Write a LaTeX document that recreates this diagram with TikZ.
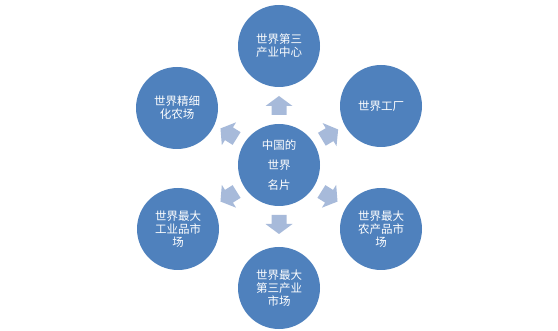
\documentclass[tikz,border=0pt]{standalone}
\usepackage{fontspec}
\setmainfont{Noto Sans CJK SC}
\definecolor{bubblue}{RGB}{79,129,189}
\definecolor{arrowblue}{RGB}{167,186,218}
\begin{document}
\begin{tikzpicture}[x=1pt,y=1pt,
  bub/.style={circle, fill=bubblue, minimum size=82pt, inner sep=0pt, text=white, align=center, font=\fontsize{11.5}{13}\selectfont},
  blockarrow/.style={fill=arrowblue}]
\useasboundingbox (0,0) rectangle (558,330);
\node[bub, font=\fontsize{11.5}{20}\selectfont] (c) at (279,165) {中国的\\世界\\名片};
\node[bub] (t) at (279,284) {世界第三\\产业中心};
\node[bub] (ur) at (381,224) {世界工厂};
\node[bub] (lr) at (381,101) {世界最大\\农产品市\\场};
\node[bub] (b) at (279,42) {世界最大\\第三产业\\市场};
\node[bub] (ll) at (178,101) {世界最大\\工业品市\\场};
\node[bub] (ul) at (177,222) {世界精细\\化农场};
\foreach \a in {90,31,-32,-90,212,148}{
  \fill[blockarrow, shift={(c.center)}, rotate=\a]
    (50,-7.5) -- (59,-7.5) -- (59,-13.5) -- (69,0) -- (59,13.5) -- (59,7.5) -- (50,7.5) -- cycle;
}
\end{tikzpicture}
\end{document}
